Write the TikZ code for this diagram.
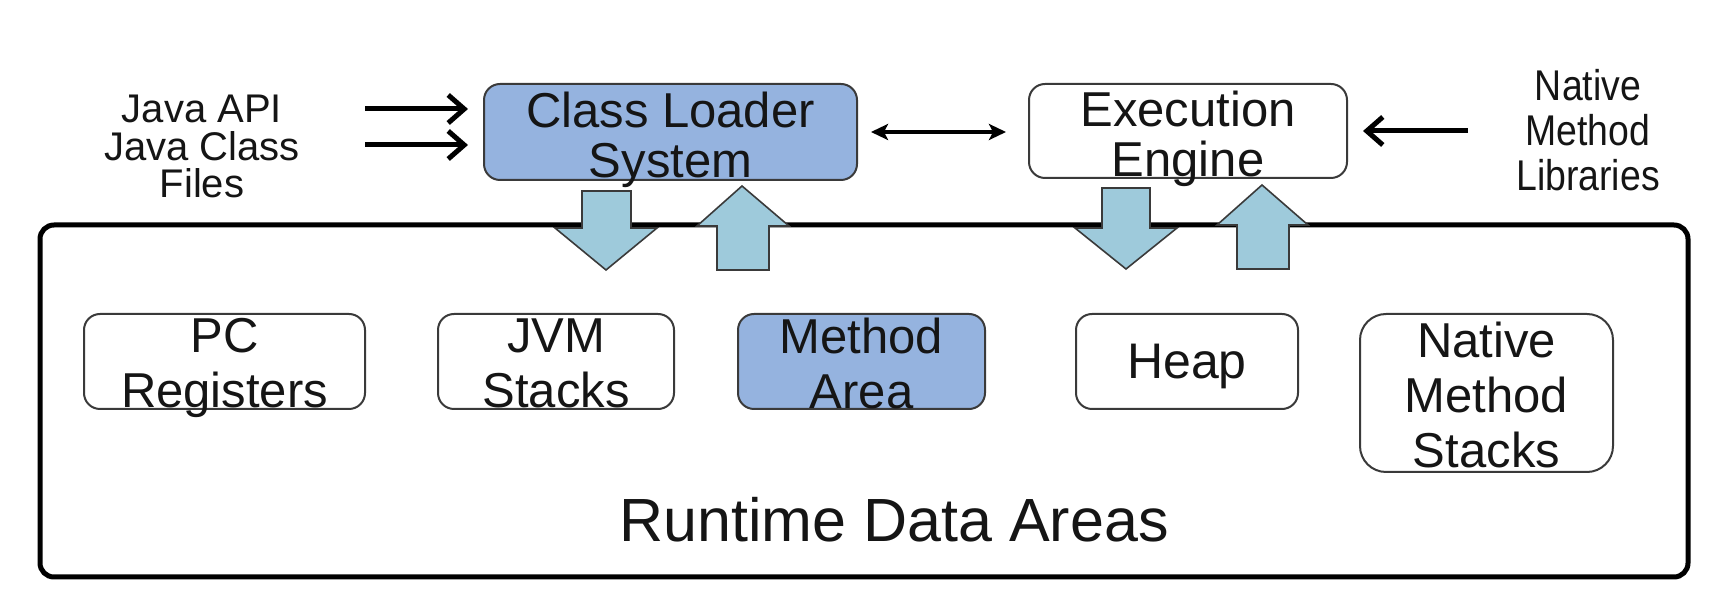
\documentclass[tikz,border=0pt]{standalone}
\usepackage{fontspec}
\setmainfont{Liberation Sans}
\newfontfamily\narrowfont[FakeStretch=0.87]{Liberation Sans}
\usetikzlibrary{arrows.meta}
\definecolor{boxblue}{HTML}{95B3DF}
\definecolor{arrowblue}{HTML}{9ECADB}
\definecolor{edgegray}{HTML}{3A3A3A}
\definecolor{inkcol}{HTML}{151515}
\tikzset{
  rbox/.style={draw=edgegray, line width=1pt, rounded corners=8pt, inner sep=0pt, outer sep=0pt},
  lbl/.style={inner sep=0pt, align=center, anchor=north, text=inkcol},
  boxfont/.style={font=\fontsize{24.5}{25}\selectfont},
  lowfont/.style={font=\fontsize{24.5}{27.5}\selectfont},
  sidefont/.style={font=\fontsize{20}{18.75}\selectfont},
  libfont/.style={font=\narrowfont\fontsize{21.5}{22.5}\selectfont},
  feedarr/.style={line width=2.5pt, -{Straight Barb[length=8pt,width=14pt]}, shorten >=8pt},
  dblarr/.style={line width=2pt, {Stealth[length=8.5pt,width=8pt,inset=2pt]}-{Stealth[length=8.5pt,width=8pt,inset=2pt]}, shorten <=7pt, shorten >=11.5pt},
  blockarr/.style={fill=arrowblue, draw=edgegray, line width=0.8pt, line join=miter}
}
\begin{document}
\begin{tikzpicture}[x=0.5pt, y=-0.5pt]
\useasboundingbox (0,0) rectangle (1730,608);

% Runtime data areas frame
\node[draw=black, line width=2.5pt, rounded corners=7pt, minimum width=824pt, minimum height=176pt, inner sep=0pt] (rt) at (864,401) {};

% top boxes
\node[rbox, fill=boxblue, minimum width=186.5pt, minimum height=48pt] (cls) at (670.5,132) {};
\node[rbox, fill=white, minimum width=159pt, minimum height=47pt] (exe) at (1188,131) {};

% block arrows
\draw[blockarr] (582,191) -- (631,191) -- (631,228) -- (657,228) -- (606,270) -- (555,228) -- (582,228) -- cycle;
\draw[blockarr] (742,186) -- (789,226) -- (769,226) -- (769,270) -- (717,270) -- (717,226) -- (697,226) -- cycle;
\draw[blockarr] (1102,188) -- (1150,188) -- (1150,228) -- (1177,228) -- (1126,269) -- (1075,228) -- (1102,228) -- cycle;
\draw[blockarr] (1262,185) -- (1308,225) -- (1289,225) -- (1289,269) -- (1237,269) -- (1237,225) -- (1217,225) -- cycle;

% lower boxes
\node[rbox, fill=white, minimum width=140.5pt, minimum height=47.5pt] (pc) at (224.5,361.5) {};
\node[rbox, fill=white, minimum width=118pt, minimum height=47.5pt] (jvm) at (556,361.5) {};
\node[rbox, fill=boxblue, minimum width=123.5pt, minimum height=47.5pt] (meth) at (861.5,361.5) {};
\node[rbox, fill=white, minimum width=111pt, minimum height=47.5pt] (heap) at (1187,361.5) {};
\node[rbox, fill=white, rounded corners=13pt, minimum width=126.5pt, minimum height=79pt] (nms) at (1486.5,393) {};

% texts
\node[lbl, boxfont] (clst) at (670.5,92) {Class Loader\\System};
\node[lbl, boxfont] (exet) at (1188,91) {Execution\\Engine};
\node[lbl, sidefont] (java) at (202,95) {Java API\\Java Class\\Files};
\node[lbl, libfont] (nlib) at (1588,69) {Native\\Method\\Libraries};
\node[lbl, lowfont] (pct) at (224.5,318) {PC\\Registers};
\node[lbl, lowfont] (jvmt) at (556,318) {JVM\\Stacks};
\node[lbl, lowfont] (metht) at (861.5,318) {Method\\Area};
\node[inner sep=0pt, anchor=base, text=inkcol, font=\fontsize{25}{27}\selectfont] (heapt) at (1187,379) {Heap};
\node[lbl, lowfont] (nmst) at (1486.5,322) {Native\\Method\\Stacks};
\node[inner sep=0pt, anchor=base, text=inkcol, font=\fontsize{30.5}{32}\selectfont] (rtt) at (894,542) {Runtime Data Areas};

% connectors
\coordinate (ja1) at (365,109);
\coordinate (ja2) at (365,145);
\coordinate (nl) at (1468,131);
\draw[feedarr] (ja1) -- (ja1 -| cls.west);
\draw[feedarr] (ja2) -- (ja2 -| cls.west);
\draw[dblarr] (cls.east) -- (cls.east -| exe.west);
\draw[feedarr] (nl) -- (nl -| exe.east);
\end{tikzpicture}
\end{document}
